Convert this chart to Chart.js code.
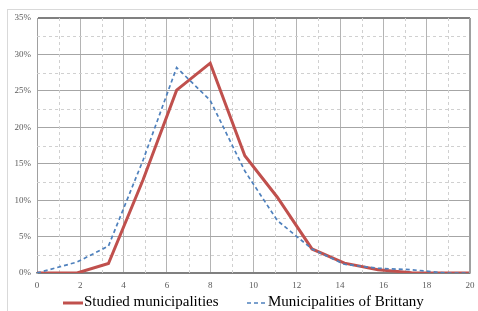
<!DOCTYPE html>
<html>
<head>
<meta charset="utf-8">
<script src="https://cdn.jsdelivr.net/npm/chart.js@4.4.1/dist/chart.umd.min.js"></script>
<style>
  html, body { margin: 0; padding: 0; background: #fff; }
  #wrap { position: relative; width: 478px; height: 311px; overflow: hidden; }
  #frame { position: absolute; left: 7px; top: 9px; width: 600px; height: 600px;
           border-top: 1px solid #d9d9d9; border-left: 1px solid #d9d9d9; }
  #c { position: absolute; left: 0; top: 0; }
  #legend { position: absolute; top: 294px; left: 0; width: 478px; height: 17px;
            font: 15px/15px "Liberation Serif", "Times New Roman", serif; color: #000;
            white-space: nowrap; }
  .item { position: absolute; top: 0; display: flex; align-items: center; }
  .item svg { display: block; margin-right: 1px; margin-top: 2px; }
</style>
</head>
<body>
<div id="wrap">
  <div id="frame"></div>
  <canvas id="c" width="478" height="311"></canvas>
  <div id="legend"></div>
</div>
<script>
// Class positions on the horizontal axis
const xValues = [0, 1.85, 3.3, 4.9, 6.45, 8.0, 9.6, 11.1, 12.7, 14.2, 15.75, 17.3, 18.85, 20];
// Share of municipalities (%)
const studied  = [0, 0, 1.3, 12.8, 25.1, 28.8, 16.1, 10.4, 3.3, 1.35, 0.45, 0.05, 0, 0];
const brittany = [0, 1.5, 3.7, 15.5, 28.2, 23.7, 14.0, 7.2, 3.3, 1.2, 0.65, 0.45, 0, 0];
const seriesNames = ['Studied municipalities', 'Municipalities of Brittany'];
const xTickLabels = [0, 2, 4, 6, 8, 10, 12, 14, 16, 18, 20];
const yTickLabels = [0, 5, 10, 15, 20, 25, 30, 35];

const toPts = arr => arr.map((v, i) => ({ x: xValues[i], y: v }));

const minorGrid = {
  id: 'minorGrid',
  beforeDatasetsDraw(chart) {
    const { ctx, chartArea: a, scales: { x, y } } = chart;
    ctx.save();
    ctx.strokeStyle = '#d0d0d0';
    ctx.lineWidth = 1;
    ctx.setLineDash([3, 3]);
    for (let v = 1; v < 20; v += 2) {
      const px = Math.round(x.getPixelForValue(v)) + 0.5;
      ctx.beginPath(); ctx.moveTo(px, a.top); ctx.lineTo(px, a.bottom); ctx.stroke();
    }
    for (let v = 2.5; v < 35; v += 5) {
      const py = Math.round(y.getPixelForValue(v)) + 0.5;
      ctx.beginPath(); ctx.moveTo(a.left, py); ctx.lineTo(a.right, py); ctx.stroke();
    }
    ctx.restore();
  }
};

const tickFont = { family: '"Liberation Serif", "Times New Roman", serif', size: 9 };

const chart = new Chart(document.getElementById('c'), {
  type: 'scatter',
  data: {
    datasets: [
      { label: seriesNames[0], data: toPts(studied), showLine: true,
        borderColor: '#c0504d', backgroundColor: '#c0504d', borderWidth: 3,
        pointRadius: 0, tension: 0, order: 1 },
      { label: seriesNames[1], data: toPts(brittany), showLine: true,
        borderColor: '#4f81bd', backgroundColor: '#4f81bd', borderWidth: 1.7,
        borderDash: [4, 3], pointRadius: 0, tension: 0, order: 0 }
    ]
  },
  options: {
    responsive: false,
    animation: false,
    layout: { padding: { left: 0, right: 0, top: 18, bottom: 20 } },
    plugins: { tooltip: { enabled: false }, legend: { display: false } },
    scales: {
      x: {
        type: 'linear', min: 0, max: 20,
        afterBuildTicks: s => { s.ticks = xTickLabels.map(v => ({ value: v })); },
        ticks: { color: '#595959', font: tickFont, padding: 7, maxRotation: 0 },
        grid: { color: '#b4b4b4', lineWidth: 1, drawTicks: false },
        border: { color: '#808080', width: 1.5 },
        afterFit: s => { s.height = 18; s.paddingRight = 8; }
      },
      y: {
        min: 0, max: 35,
        afterBuildTicks: s => { s.ticks = yTickLabels.map(v => ({ value: v })); },
        ticks: { color: '#595959', font: tickFont, padding: 6, callback: v => v + '%' },
        grid: { color: ctx => (ctx.tick && (ctx.tick.value === 0 || ctx.tick.value === 35)) ? '#808080' : '#a6a6a6',
                lineWidth: ctx => (ctx.tick && ctx.tick.value === 35) ? 2 : 1, drawTicks: false },
        border: { color: '#a0a0a0', width: 1 },
        afterFit: s => { s.width = 37; }
      }
    }
  },
  plugins: [minorGrid, {
    id: 'rightEdge',
    afterDraw(chart) {
      const { ctx, chartArea: a } = chart;
      ctx.save();
      ctx.strokeStyle = '#a0a0a0'; ctx.lineWidth = 2;
      ctx.beginPath(); ctx.moveTo(a.right, a.top); ctx.lineTo(a.right, a.bottom); ctx.stroke();
      ctx.restore();
    }
  }]
});

// HTML legend built from the datasets
const legendLefts = [63, 247];
const legend = document.getElementById('legend');
chart.data.datasets.forEach((ds, i) => {
  const item = document.createElement('div');
  item.className = 'item';
  item.style.left = legendLefts[i] + 'px';
  const dash = ds.borderDash ? ds.borderDash.join(' ') : 'none';
  item.innerHTML = '<svg width="20" height="6"><line x1="0" y1="3" x2="20" y2="3" stroke="' +
    ds.borderColor + '" stroke-width="' + (ds.borderWidth > 2 ? 3 : 1.7) +
    '" stroke-dasharray="' + dash + '"/></svg><span>' + ds.label + '</span>';
  legend.appendChild(item);
});
</script>
</body>
</html>
